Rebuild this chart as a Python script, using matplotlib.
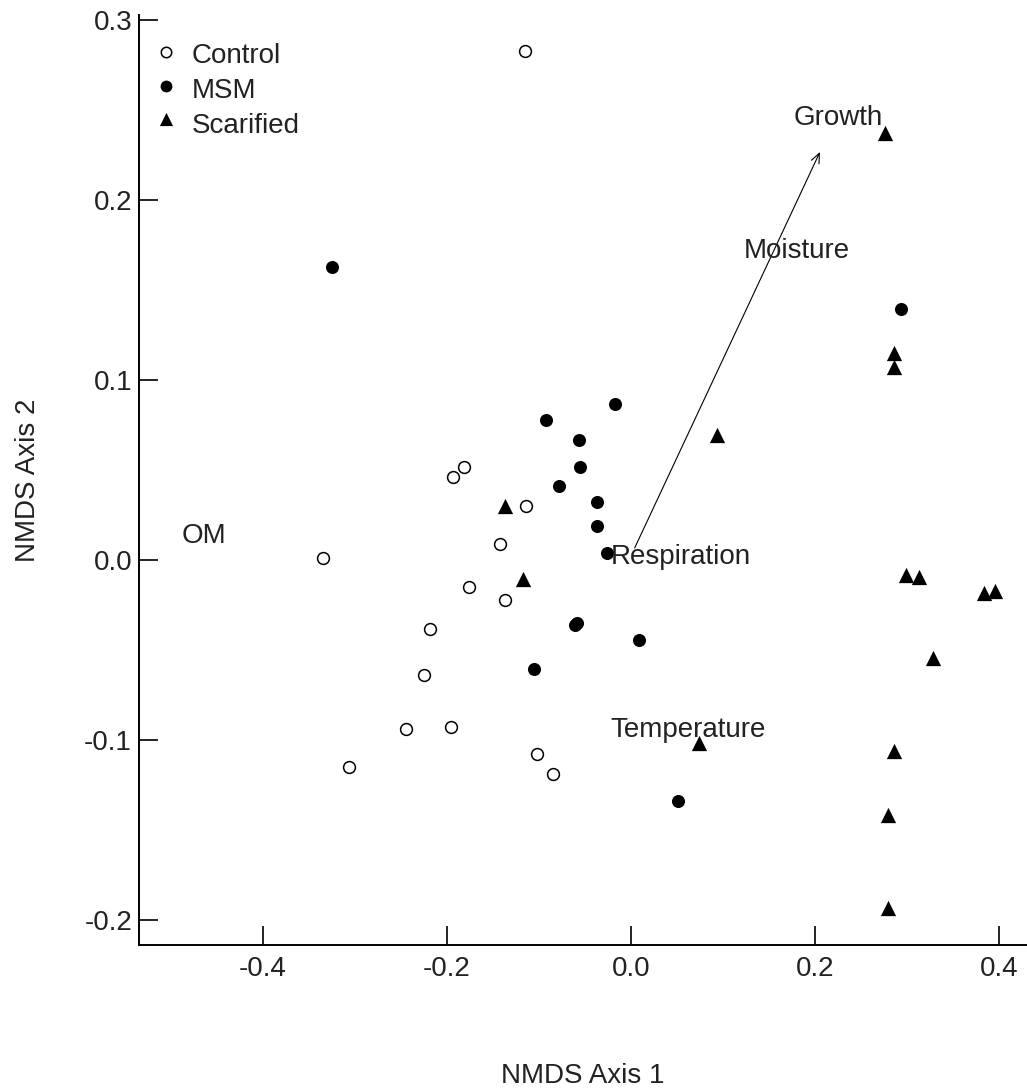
import matplotlib
matplotlib.use("Agg")
import matplotlib.pyplot as plt

plt.rcParams['font.family'] = ['Liberation Sans', 'DejaVu Sans']

# ---- data ----
control_x = [-0.115, -0.182, -0.194, -0.114, -0.142, -0.335, -0.176, -0.137,
             -0.219, -0.225, -0.245, -0.196, -0.307, -0.102, -0.0845]
control_y = [0.283, 0.0515, 0.046, 0.030, 0.009, 0.001, -0.015, -0.022,
             -0.0385, -0.0637, -0.0939, -0.093, -0.115, -0.108, -0.119]

msm_x = [-0.325, -0.0174, -0.0924, -0.0569, -0.055, -0.0786, -0.0373, -0.0373,
         -0.0257, -0.061, -0.059, 0.009, -0.1058, 0.0507, 0.293]
msm_y = [0.1626, 0.0867, 0.0778, 0.0667, 0.0515, 0.0413, 0.0322, 0.019,
         0.004, -0.036, -0.035, -0.0444, -0.0606, -0.134, 0.1394]

scar_x = [-0.137, -0.117, 0.0938, 0.0743, 0.2757, 0.2855, 0.2862, 0.2986,
          0.313, 0.3837, 0.3957, 0.3286, 0.2855, 0.2797, 0.2797]
scar_y = [0.030, -0.0107, 0.0694, -0.1015, 0.237, 0.1148, 0.107, -0.0083,
          -0.0093, -0.0185, -0.017, -0.0543, -0.1063, -0.1417, -0.1935]

arrow_start = (0.004, 0.0067)
arrow_end = (0.2054, 0.2267)

env_labels = ["Growth", "Moisture", "Respiration", "Temperature", "OM"]
env_x = [0.2255, 0.180, 0.0543, 0.0625, -0.464]
env_y = [0.2417, 0.1678, -0.002, -0.0983, 0.0094]

legend_labels = ["Control", "MSM", "Scarified"]

xticks = [-0.4, -0.2, 0.0, 0.2, 0.4]
yticks = [-0.2, -0.1, 0.0, 0.1, 0.2, 0.3]

# ---- figure ----
W, H = 1027, 1089
fig = plt.figure(figsize=(W / 100, H / 100), dpi=100)
ax_left, ax_right, ax_top, ax_bottom = 139, 1027, 15, 945
ax = fig.add_axes([ax_left / W, 1 - ax_bottom / H,
                   (ax_right - ax_left) / W, (ax_bottom - ax_top) / H])

FS = 20
ax.scatter(control_x, control_y, s=8.5**2, marker='o', facecolors='white',
           edgecolors='black', linewidths=1.1, zorder=3)
ax.scatter(msm_x, msm_y, s=9.4**2, marker='o', color='black', linewidths=0, zorder=3)
ax.scatter(scar_x, scar_y, s=11**2, marker='^', color='black', linewidths=0, zorder=3)

ax.annotate("", xy=arrow_end, xytext=arrow_start,
            arrowprops=dict(arrowstyle='->,head_length=0.7,head_width=0.3',
                            lw=0.8, color='black', mutation_scale=10,
                            shrinkA=0, shrinkB=0))

for lab, x, y in zip(env_labels, env_x, env_y):
    ax.text(x, y, lab, ha='center', va='baseline', fontsize=FS, color='#222222')

ax.set_xlim((ax_left - 631) / 920, (ax_right - 631) / 920)
ax.set_ylim((560 - ax_bottom) / 1800, (560 - ax_top) / 1800)

ax.set_xticks(xticks)
ax.set_xticklabels([f"{t:.1f}" for t in xticks])
ax.set_yticks(yticks)
ax.set_yticklabels([f"{t:.1f}" for t in yticks])
ax.tick_params(direction='in', length=13.7, width=1.2, labelsize=FS,
               colors='black', labelcolor='#222222')
ax.tick_params(axis='x', pad=8)
ax.tick_params(axis='y', pad=5)

for s in ['top', 'right']:
    ax.spines[s].set_visible(False)
for s in ['left', 'bottom']:
    ax.spines[s].set_linewidth(1.4)

ax.set_xlabel("NMDS Axis 1", fontsize=FS, va='baseline', color='#222222')
ax.xaxis.set_label_coords(0.5, (ax_bottom - 1083) / (ax_bottom - ax_top))
ax.set_ylabel("NMDS Axis 2", fontsize=FS, va='baseline', color='#222222')
ax.yaxis.set_label_coords((35 - ax_left) / (ax_right - ax_left), 0.5)

# legend (manual, in axes coordinates)
def ax_xy(px, py):
    return ((px - ax_left) / (ax_right - ax_left), (ax_bottom - py) / (ax_bottom - ax_top))

mk_y = [52, 86, 119]
txt_base = [63, 98, 133]
styles = [dict(marker='o', s=7.5**2, facecolors='white', edgecolors='black', linewidths=1.1),
          dict(marker='o', s=8.5**2, color='black', linewidths=0),
          dict(marker='^', s=9.5**2, color='black', linewidths=0)]
for lab, my, ty, st in zip(legend_labels, mk_y, txt_base, styles):
    mx, myy = ax_xy(166, my)
    ax.scatter([mx], [myy], transform=ax.transAxes, clip_on=False, zorder=4, **st)
    tx, tyy = ax_xy(192, ty)
    ax.text(tx, tyy, lab, transform=ax.transAxes, ha='left', va='baseline',
            fontsize=FS, color='#222222')

fig.savefig("out.png", dpi=100)
